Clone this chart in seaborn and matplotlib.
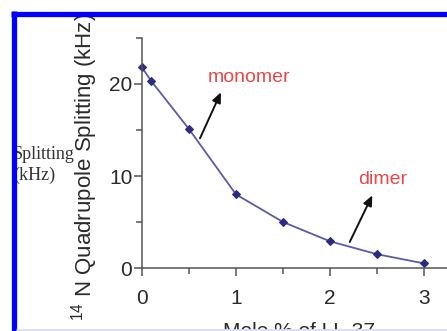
import matplotlib
matplotlib.use("Agg")
import matplotlib.pyplot as plt
from matplotlib.lines import Line2D
import seaborn as sns
import pandas as pd

# ---- data ----
mole_percent = [0, 0.1, 0.5, 1.0, 1.5, 2.0, 2.5, 3.0]
splitting_khz = [21.8, 20.3, 15.1, 8.0, 5.0, 2.9, 1.5, 0.5]
x_ticks = [0, 1, 2, 3]
y_ticks = [0, 10, 20]
x_minor = [0.5, 1.5, 2.5]
y_minor = [5, 15, 25]

sns.set_theme(style="white")
plt.rcParams["font.family"] = ["Liberation Sans", "DejaVu Sans"]
plt.rcParams["mathtext.fontset"] = "custom"
plt.rcParams["mathtext.rm"] = "Liberation Sans"
plt.rcParams["mathtext.it"] = "Liberation Sans:italic"

W, H = 447, 331
fig = plt.figure(figsize=(W / 100, H / 100), dpi=100)
fig.patch.set_facecolor("white")

# axes placed in pixel terms: x=0 at 142px, 94px/unit ; y=0 at 268px from top, 9.2px/unit
ax_left, ax_bottom = 142, H - 268
ax_w, ax_h = 94 * 3.35, 230
ax = fig.add_axes([ax_left / W, ax_bottom / H, ax_w / W, ax_h / H])

df = pd.DataFrame({"mole": mole_percent, "split": splitting_khz})
sns.lineplot(data=df, x="mole", y="split", ax=ax, color="#5a5aa8", linewidth=1.3,
             marker="D", markersize=4.5, markerfacecolor="#2b2b80",
             markeredgecolor="#2b2b80", clip_on=False)

ax.set_xlim(0, 3.35)
ax.set_ylim(0, 25)
ax.set_xticks(x_ticks)
ax.set_yticks(y_ticks)
ax.set_xticks(x_minor, minor=True)
ax.set_yticks(y_minor, minor=True)
ax.tick_params(which="major", direction="out", length=6, width=1.1, color="#555555",
               labelsize=15, labelcolor="#2a2a2a", pad=1)
ax.tick_params(axis="x", which="major", pad=9)
ax.tick_params(which="minor", direction="out", length=4.5, width=1.1, color="#555555")
ax.tick_params(axis="x", which="both", bottom=True)
ax.tick_params(axis="y", which="both", left=True)
for s in ["top", "right"]:
    ax.spines[s].set_visible(False)
for s in ["left", "bottom"]:
    ax.spines[s].set_color("#555555")
    ax.spines[s].set_linewidth(1.1)
ax.set_facecolor("white")

ax.set_xlabel("Mole % of LL-37", fontsize=15, color="#2a2a2a", labelpad=10)
ax.set_ylabel(r"$^{14}$ N Quadrupole Splitting (kHz)", fontsize=16, color="#2a2a2a")
ax.yaxis.set_label_coords((100 - 142) / ax_w, (H - 167 - ax_bottom) / ax_h)

# annotations
red = "#e8484a"
ax.text(1.14, 20.7, "monomer", color=red, fontsize=14, ha="center", va="center")
ax.annotate("", xy=(0.84, 19.1), xytext=(0.617, 14.1),
            arrowprops=dict(arrowstyle="-|>,head_length=0.5,head_width=0.22",
                            color="#111111", lw=1.4, shrinkA=0, shrinkB=0))
ax.text(2.56, 9.6, "dimer", color=red, fontsize=14, ha="center", va="center")
ax.annotate("", xy=(2.45, 7.9), xytext=(2.21, 2.83),
            arrowprops=dict(arrowstyle="-|>,head_length=0.5,head_width=0.22",
                            color="#111111", lw=1.4, shrinkA=0, shrinkB=0))

# serif side label (partially hidden by frame)
fig.text(13 / W, 1 - 165 / H, "Splitting\n(kHz)", family=["Liberation Serif", "DejaVu Serif"],
         fontsize=13, color="#333333", ha="left", va="center", linespacing=1.3)

# frame: blue left/top, light lavender bottom
fig.add_artist(Line2D([13.5 / W, 13.5 / W], [0, 1 - 11 / H], transform=fig.transFigure,
                      color="#0000ff", lw=3.8, solid_capstyle="butt", zorder=20))
fig.add_artist(Line2D([11 / W, 1], [1 - 13.5 / H, 1 - 13.5 / H], transform=fig.transFigure,
                      color="#0000ff", lw=3.8, solid_capstyle="butt", zorder=20))
fig.add_artist(Line2D([16 / W, 1], [1 - 329.5 / H, 1 - 329.5 / H], transform=fig.transFigure,
                      color="#dcdcf6", lw=2, solid_capstyle="butt", zorder=20))

fig.savefig("out.png", dpi=100)
